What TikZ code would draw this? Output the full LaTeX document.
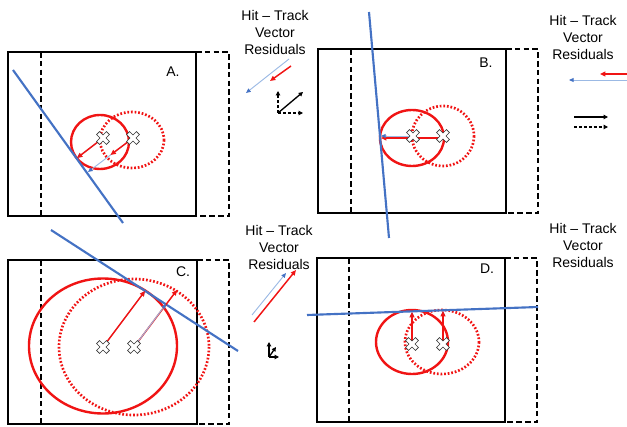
\documentclass[tikz,border=0pt]{standalone}
\usepackage{fontspec}
\setmainfont{Liberation Sans}
\usetikzlibrary{arrows.meta}
\definecolor{tred}{RGB}{240,20,20}
\definecolor{tblue}{RGB}{68,114,196}
\definecolor{lblue}{RGB}{155,185,228}
\begin{document}
\begin{tikzpicture}[x=0.75pt,y=-0.75pt,
  frame/.style={line width=1.5pt},
  dashline/.style={line width=1.3pt,dash pattern=on 4.2pt off 2.4pt},
  track/.style={tblue,line width=1.6pt},
  hitsolid/.style={tred,line width=1.8pt},
  hitdot/.style={tred,line width=2pt,dash pattern=on 1.3pt off 1.4pt},
  resid/.style={tred,line width=1.1pt,-{Triangle[length=4pt,width=3.5pt]}},
  tresid/.style={lblue,line width=0.7pt,-{Triangle[length=3.5pt,width=3pt,color=tblue]}},
  axarrow/.style={black,line width=1pt,-{Triangle[length=3.2pt,width=3.2pt]}},
  axdash/.style={axarrow,dash pattern=on 2.2pt off 1.5pt},
  lbl/.style={font=\fontsize{10.5pt}{12.75pt}\selectfont,align=center,inner sep=0pt},
  xmark/.pic={\draw[black!80,line width=0.45pt,fill=white,rotate=45]
      (-2.1,-7)--(2.1,-7)--(2.1,-2.1)--(7,-2.1)--(7,2.1)--(2.1,2.1)--(2.1,7)
      --(-2.1,7)--(-2.1,2.1)--(-7,2.1)--(-7,-2.1)--(-2.1,-2.1)--cycle;}
]
\useasboundingbox (0,0) rectangle (627,427);

% ---------- Panel A ----------
\draw[frame] (8,52) rectangle (196,216);
\draw[dashline] (41,52) -- (41,216);
\draw[dashline] (196,52) -- (229,52) -- (229,216) -- (196,216);
\node[lbl] (labA) at (173,72) {A.};
\draw[hitdot] (132,140) ellipse [x radius=32, y radius=28];
\draw[hitsolid] (100,142) ellipse [x radius=29, y radius=27];
\coordinate (trA1) at (13,70);
\coordinate (trA2) at (123,223);
\draw[track] (trA1) -- (trA2);
\coordinate (hA1) at (103,138);
\coordinate (hA2) at (133,138);
\coordinate (tA1) at (77,158);
\coordinate (tA2) at (88,172);
\coordinate (rA2) at (110.5,155);
\draw[tresid] (hA1) -- (tA1);
\draw[resid] (hA1) -- (tA1);
\draw[tresid] (hA2) -- (tA2);
\draw[resid] (hA2) -- (rA2);
\pic at (hA1) {xmark};
\pic at (hA2) {xmark};

% ---------- Panel B ----------
\draw[frame] (318,49) rectangle (506,213);
\draw[dashline] (351,49) -- (351,213);
\draw[dashline] (506,49) -- (538,49) -- (538,213) -- (506,213);
\node[lbl] (labB) at (486,63) {B.};
\draw[hitdot] (443,136) ellipse [x radius=31, y radius=30];
\draw[hitsolid] (412,138) ellipse [x radius=32, y radius=28];
\coordinate (trB1) at (369,12);
\coordinate (trB2) at (389,238);
\draw[track] (trB1) -- (trB2);
\coordinate (hB1) at (413,136);
\coordinate (hB2) at (443,136);
\coordinate (tB1) at (381,136);
\coordinate (hB2r) at (443,138);
\coordinate (tB2) at (381,138);
\draw[resid] (hB2r) -- (tB2);
\draw[tresid] (hB1) -- (tB1);
\pic at (hB1) {xmark};
\pic at (hB2) {xmark};

% ---------- Panel C ----------
\draw[frame] (8,260) rectangle (197,424);
\draw[dashline] (41,260) -- (41,424);
\draw[dashline] (197,260) -- (229,260) -- (229,424) -- (197,424);
\node[lbl] (labC) at (183,272) {C.};
\draw[hitdot] (134,347) ellipse [x radius=75, y radius=68];
\draw[hitsolid] (103,346) ellipse [x radius=74, y radius=67.5];
\coordinate (trC1) at (51,230);
\coordinate (trC2) at (238,351);
\draw[track] (trC1) -- (trC2);
\coordinate (hC1) at (103,347);
\coordinate (hC2) at (134,347);
\coordinate (tC1) at (145,291);
\coordinate (tC2) at (166,304);
\coordinate (rC2) at (177,290);
\draw[tresid] (hC1) -- (tC1);
\draw[resid] (hC1) -- (tC1);
\draw[resid] (hC2) -- (rC2);
\draw[tresid] (hC2) -- (tC2);
\pic at (hC1) {xmark};
\pic at (hC2) {xmark};

% ---------- Panel D ----------
\draw[frame] (317,258) rectangle (505,422);
\draw[dashline] (349,258) -- (349,422);
\draw[dashline] (505,258) -- (537,258) -- (537,422) -- (505,422);
\node[lbl] (labD) at (487,269) {D.};
\draw[hitdot] (442,342) ellipse [x radius=37, y radius=32];
\draw[hitsolid] (412,342) ellipse [x radius=36, y radius=32];
\coordinate (trD1) at (307,315);
\coordinate (trD2) at (538,307);
\draw[track] (trD1) -- (trD2);
\coordinate (hD1) at (412,344);
\coordinate (hD2) at (443,344);
\coordinate (tD1) at (412,312);
\coordinate (tD2) at (443,311);
\draw[tresid] (hD1) -- (tD1);
\draw[resid] (hD1) -- (tD1);
\draw[tresid] (hD2) -- (tD2);
\draw[resid] (hD2) -- (tD2);
\pic at (hD1) {xmark};
\pic at (hD2) {xmark};

% ---------- Legends ----------
\node[lbl] (txtA) at (275,33) {Hit -- Track\\Vector\\Residuals};
\node[lbl] (txtB) at (583,38) {Hit -- Track\\Vector\\Residuals};
\node[lbl] (txtC) at (279,247) {Hit -- Track\\Vector\\Residuals};
\node[lbl] (txtD) at (583,245) {Hit -- Track\\Vector\\Residuals};

% legend A arrows
\coordinate (lA1s) at (289,59); \coordinate (lA1e) at (246,93);
\coordinate (lA2s) at (291,66); \coordinate (lA2e) at (270,81);
\draw[tresid] (lA1s) -- (lA1e);
\draw[resid] (lA2s) -- (lA2e);
% axes glyph A
\coordinate (axA) at (278,113);
\coordinate (axAu) at (278,91);
\coordinate (axAd) at (303,92);
\coordinate (axAr) at (303,113);
\draw[axdash] (axA) -- (axAu);
\draw[axarrow] (axA) -- (axAd);
\draw[axdash] (axA) -- (axAr);

% legend B arrows
\coordinate (lB1s) at (627,74); \coordinate (lB1e) at (600,74);
\coordinate (lB2s) at (627,80); \coordinate (lB2e) at (569,80);
\draw[resid] (lB1s) -- (lB1e);
\draw[tresid] (lB2s) -- (lB2e);
\coordinate (lsS1) at (574,117); \coordinate (lsE1) at (608,117);
\coordinate (lsS2) at (574,127); \coordinate (lsE2) at (608,127);
\draw[axarrow] (lsS1) -- (lsE1);
\draw[axdash] (lsS2) -- (lsE2);

% legend C arrows
\coordinate (lC1s) at (252,315); \coordinate (lC1e) at (286,273);
\coordinate (lC2s) at (254,322); \coordinate (lC2e) at (296,270);
\draw[tresid] (lC1s) -- (lC1e);
\draw[resid] (lC2s) -- (lC2e);
% axes glyph C
\coordinate (axC) at (269,357);
\coordinate (axCu) at (269,342);
\coordinate (axCd) at (276,347);
\coordinate (axCr) at (279,357);
\draw[axarrow] (axC) -- (axCu);
\draw[axarrow] (axC) -- (axCd);
\draw[axarrow] (axC) -- (axCr);
\end{tikzpicture}
\end{document}
